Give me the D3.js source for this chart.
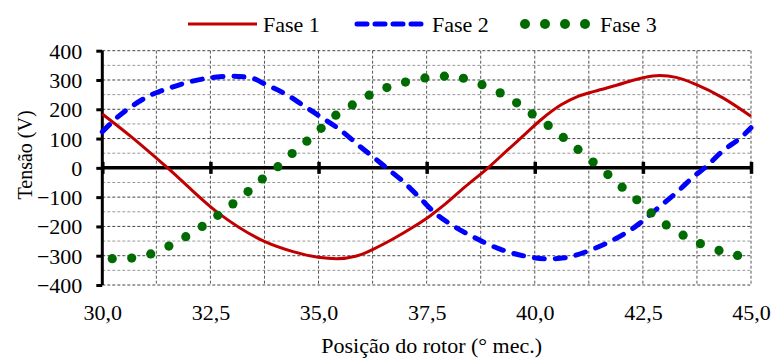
<!DOCTYPE html>
<html>
<head>
<meta charset="utf-8">
<script src="https://cdn.jsdelivr.net/npm/d3@7/dist/d3.min.js"></script>
<style>
  html, body { margin: 0; padding: 0; background: #fff; }
  svg { display: block; }
  svg text { font-family: "Liberation Serif", "Tinos", "Times New Roman", Times, "DejaVu Serif", serif; }
</style>
</head>
<body>
<svg id="chart" width="773" height="360"></svg>
<script>
// ---- Data ----
const seriesNames = ["Fase 1", "Fase 2", "Fase 3"];
const xTicks = [30, 32.5, 35, 37.5, 40, 42.5, 45];
const yTicks = [-400, -300, -200, -100, 0, 100, 200, 300, 400];

const pos1 = [30.00, 30.68, 31.51, 32.67, 33.76, 34.41, 34.99, 35.42, 35.88, 36.26, 36.73, 37.19, 37.57, 37.92, 38.38, 38.92, 39.38, 39.77, 40.15, 40.62, 41.00, 41.38, 41.89, 42.48, 42.89, 43.27, 43.74, 44.35, 45.00];
const fase1 = [184, 105, 0, -153, -252, -286, -305, -310, -301, -278, -242, -202, -165, -125, -66, 0, 62, 114, 165, 216, 244, 261, 282, 307, 315, 309, 284, 239, 176];

const pos2 = [30.00, 30.29, 30.68, 31.06, 31.60, 32.14, 32.60, 32.99, 33.45, 33.76, 34.26, 34.64, 35.03, 35.49, 35.95, 36.34, 36.57, 36.95, 37.34, 37.69, 38.07, 38.54, 39.15, 39.76, 40.30, 40.69, 41.40, 41.88, 42.34, 42.81, 43.27, 43.73, 43.93, 44.34, 44.80, 45.00];
const fase2 = [123, 165, 210, 244, 275, 298, 309, 313, 307, 286, 250, 214, 176, 131, 74, 28, 0, -46, -102, -154, -194, -233, -275, -301, -311, -307, -274, -241, -199, -142, -85, -23, 0, 57, 108, 137];

const pos3 = [30.23, 30.68, 31.12, 31.54, 31.93, 32.31, 32.67, 33.02, 33.37, 33.70, 34.06, 34.39, 34.73, 35.06, 35.40, 35.78, 36.17, 36.58, 37.01, 37.46, 37.91, 38.35, 38.78, 39.20, 39.58, 39.94, 40.31, 40.66, 41.00, 41.35, 41.69, 42.02, 42.36, 42.69, 43.04, 43.43, 43.83, 44.26, 44.69];
const fase3 = [-310, -308, -294, -267, -235, -200, -162, -123, -81, -38, 4, 49, 91, 135, 180, 215, 248, 274, 293, 307, 313, 306, 284, 256, 222, 184, 145, 104, 63, 20, -23, -66, -109, -154, -195, -230, -259, -282, -299];

const fmtX = d => d3.format(".1f")(d).replace(".", ",");

// ---- Layout ----
const svg = d3.select("#chart");
const pL = 102.3, pR = 751, pT = 50.7, pB = 285;
const x = d3.scaleLinear().domain([30, 45]).range([pL, pR]);
const y = d3.scaleLinear().domain([-400, 400]).range([pB, pT]);

const colors = { f1: "#C00000", f2: "#0000FF", f3: "#006B00" };

// ---- Gridlines ----
const grid = svg.append("g");
const hGrid = d3.range(-400, 401, 50);
grid.selectAll("line.h").data(hGrid).join("line")
  .attr("x1", pL).attr("x2", pR)
  .attr("y1", d => y(d)).attr("y2", d => y(d))
  .attr("stroke", d => (d % 100 === 0) ? "#444" : "#9a9a9a")
  .attr("stroke-width", 1)
  .attr("stroke-dasharray", "3,2");
const vGrid = d3.range(0, 13).map(i => 30 + i * 1.25);
grid.selectAll("line.v").data(vGrid).join("line")
  .attr("x1", d => x(d)).attr("x2", d => x(d))
  .attr("y1", pT).attr("y2", pB)
  .attr("stroke", "#555")
  .attr("stroke-width", 1)
  .attr("stroke-dasharray", "3,2");

// ---- Axes ----
const yAxis = svg.append("g")
  .attr("transform", `translate(${pL},0)`)
  .call(d3.axisLeft(y).tickValues(yTicks).tickSize(6).tickPadding(14).tickFormat(d3.format("d")));
yAxis.attr("font-family", null);
yAxis.select(".domain").attr("stroke", "#000").attr("stroke-width", 3).attr("d", `M0,${pT}V${pB}`);
yAxis.selectAll(".tick line").attr("stroke", "#000").attr("stroke-width", 3);
yAxis.selectAll(".tick text").attr("font-size", 22).attr("fill", "#000").attr("dy", "0.34em");

// zero line axis with crossing ticks
const xAxis0 = svg.append("g")
  .attr("transform", `translate(0,${y(0)})`)
  .call(d3.axisBottom(x).tickValues(xTicks).tickSize(6).tickFormat(""));
xAxis0.select(".domain").attr("stroke", "#000").attr("stroke-width", 3.5).attr("d", `M${pL},0H${pR}`);
xAxis0.selectAll(".tick line").attr("stroke", "#000").attr("stroke-width", 3.5).attr("y1", -6).attr("y2", 6);

// tick labels at the bottom
const xAxisB = svg.append("g")
  .attr("transform", `translate(0,${pB})`)
  .call(d3.axisBottom(x).tickValues(xTicks).tickSize(0).tickPadding(19).tickFormat(fmtX));
xAxisB.attr("font-family", null);
xAxisB.select(".domain").remove();
xAxisB.selectAll(".tick text").attr("font-size", 22).attr("fill", "#000");

// ---- Series ----
const line = d3.line().x(d => x(d[0])).y(d => y(d[1])).curve(d3.curveMonotoneX);
const plot = svg.append("g");
plot.append("path")
  .datum(pos1.map((p, i) => [p, fase1[i]]))
  .attr("d", line).attr("fill", "none")
  .attr("stroke", colors.f1).attr("stroke-width", 3);
plot.append("path")
  .datum(pos2.map((p, i) => [p, fase2[i]]))
  .attr("d", line).attr("fill", "none")
  .attr("stroke", colors.f2).attr("stroke-width", 5)
  .attr("stroke-dasharray", "10,11").attr("stroke-linecap", "round");
plot.selectAll("circle.f3").data(pos3.map((p, i) => [p, fase3[i]])).join("circle")
  .attr("cx", d => x(d[0])).attr("cy", d => y(d[1])).attr("r", 4.6)
  .attr("fill", colors.f3);

// ---- Legend ----
const lg = svg.append("g");
lg.append("line").attr("x1", 188).attr("x2", 257).attr("y1", 24).attr("y2", 24)
  .attr("stroke", colors.f1).attr("stroke-width", 3);
lg.append("text").attr("x", 263).attr("y", 32).attr("font-size", 22).text(seriesNames[0]);
lg.append("line").attr("x1", 357).attr("x2", 425).attr("y1", 24).attr("y2", 24)
  .attr("stroke", colors.f2).attr("stroke-width", 5)
  .attr("stroke-dasharray", "10,8").attr("stroke-linecap", "round");
lg.append("text").attr("x", 432).attr("y", 32).attr("font-size", 22).text(seriesNames[1]);
lg.selectAll("circle").data([525, 545, 565, 585]).join("circle")
  .attr("cx", d => d).attr("cy", 24).attr("r", 5).attr("fill", colors.f3);
lg.append("text").attr("x", 600).attr("y", 32).attr("font-size", 22).text(seriesNames[2]);

// ---- Axis titles ----
svg.append("text").attr("x", (pL + pR) / 2 + 5).attr("y", 353)
  .attr("text-anchor", "middle").attr("font-size", 22).text("Posição do rotor (° mec.)");
svg.append("text").attr("transform", "translate(32,155) rotate(-90)")
  .attr("text-anchor", "middle").attr("font-size", 20).text("Tensão (V)");
</script>
</body>
</html>
